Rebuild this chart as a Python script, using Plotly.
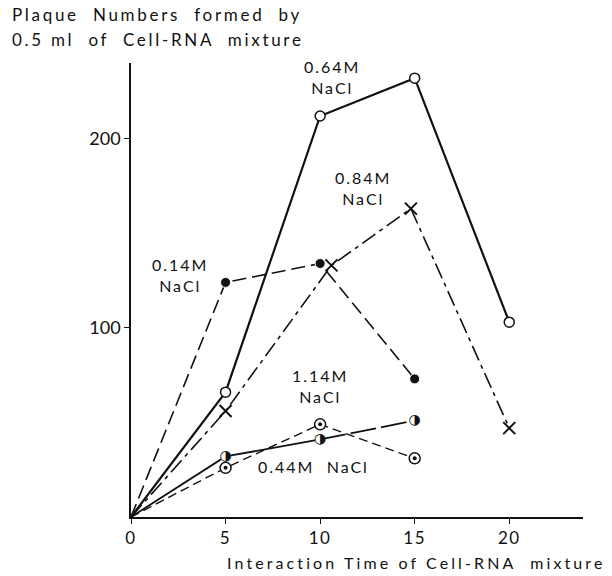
import plotly.graph_objects as go

# Interaction time (min) and plaque counts per 0.5 ml for each NaCl concentration
t_064 = [0, 5, 10, 15, 20]
p_064 = [0, 66, 212, 232, 103]

t_084 = [0, 5, 10.6, 14.8, 20]
p_084 = [0, 56, 133, 163, 47]

t_014 = [0, 5, 10, 15]
p_014 = [0, 124, 134, 73]

t_114 = [0, 5, 10, 15]
p_114 = [0, 32, 41, 51]

t_044 = [0, 5, 10, 15]
p_044 = [0, 26, 49, 31]

x_ticks = [0, 5, 10, 15, 20]
y_ticks = [100, 200]

FONT = "Lato"
INK = "#111111"


def spaced(s, px=1.6):
    return f'<span style="letter-spacing:{px}px">{s}</span>'


def hide_first(n, size):
    return [0] + [size] * (n - 1)


fig = go.Figure()

# 0.14M: long dashes, filled circles
fig.add_trace(go.Scatter(
    x=t_014, y=p_014, mode="lines+markers",
    line=dict(color=INK, width=1.6, dash="14px,6px"),
    marker=dict(symbol="circle", size=hide_first(len(t_014), 10), color=INK, opacity=1),
))

# 0.84M: dash-dot, crosses
fig.add_trace(go.Scatter(
    x=t_084, y=p_084, mode="lines+markers",
    line=dict(color=INK, width=1.6, dash="16px,5px,4px,5px"),
    marker=dict(symbol="x-thin", size=hide_first(len(t_084), 12), opacity=1,
                color=INK, line=dict(color=INK, width=2)),
))

# 0.44M: short dashes, circle with centre dot
fig.add_trace(go.Scatter(
    x=t_044, y=p_044, mode="lines",
    line=dict(color=INK, width=1.4, dash="9px,5px"),
))
fig.add_trace(go.Scatter(
    x=t_044[1:], y=p_044[1:], mode="markers",
    marker=dict(symbol="circle", size=11, color="white", opacity=1,
                line=dict(color=INK, width=1.5)),
))
fig.add_trace(go.Scatter(
    x=t_044[1:], y=p_044[1:], mode="markers",
    marker=dict(symbol="circle", size=4, color=INK, opacity=1),
))

# 1.14M: solid up to 10 min, long dashes after; half-filled circles
fig.add_trace(go.Scatter(
    x=t_114[:3], y=p_114[:3], mode="lines",
    line=dict(color=INK, width=1.8),
))
fig.add_trace(go.Scatter(
    x=t_114[2:], y=p_114[2:], mode="lines",
    line=dict(color=INK, width=1.8, dash="26px,5px"),
))
fig.add_trace(go.Scatter(
    x=t_114[1:], y=p_114[1:], mode="markers+text",
    marker=dict(symbol="circle", size=10, color="white", opacity=1),
    text=["\u25D1"] * (len(t_114) - 1), textposition="middle center",
    textfont=dict(family="DejaVu Sans", size=14, color=INK),
))

# 0.64M: heavy solid line, open circles
fig.add_trace(go.Scatter(
    x=t_064, y=p_064, mode="lines+markers",
    line=dict(color=INK, width=2.2),
    marker=dict(symbol="circle", size=hide_first(len(t_064), 10), color="white",
                opacity=1, line=dict(color=INK, width=1.5)),
))

labels = [
    ("0.64M<br>NaCl", 10.63, 232.8),
    ("0.84M<br>NaCl", 12.28, 174.0),
    ("0.14M<br>NaCl", 2.6, 128.0),
    ("1.14M<br>NaCl", 10.0, 69.3),
    ("0.44M  NaCl", 9.63, 26.5),
]
annotations = [
    dict(x=x, y=y, xref="x", yref="y", text=spaced(s, 2.0), showarrow=False,
         font=dict(family=FONT, size=16, color=INK), align="center")
    for s, x, y in labels
]

annotations += [
    dict(x=-0.268, y=1.106, xref="paper", yref="paper", xanchor="left", yanchor="middle",
         text=spaced("Plaque  Numbers  formed  by", 2.7), showarrow=False,
         font=dict(family=FONT, size=17, color=INK)),
    dict(x=-0.268, y=1.051, xref="paper", yref="paper", xanchor="left", yanchor="middle",
         text=spaced("0.5 ml  of  Cell-RNA  mixture", 2.7), showarrow=False,
         font=dict(family=FONT, size=17, color=INK)),
    dict(x=1.055, y=-0.101, xref="paper", yref="paper", xanchor="right", yanchor="middle",
         text=spaced("Interaction Time of Cell-RNA  mixture", 3.1), showarrow=False,
         font=dict(family=FONT, size=16, color=INK)),
]

fig.update_layout(
    width=612, height=576,
    margin=dict(l=131, r=29, t=63, b=59),
    paper_bgcolor="white", plot_bgcolor="white",
    showlegend=False,
    font=dict(family=FONT, size=16, color=INK),
    annotations=annotations,
    xaxis=dict(
        range=[0, 23.9], tickvals=x_ticks, ticktext=[spaced(str(v), 1.5) for v in x_ticks],
        showline=True, linecolor=INK, linewidth=1.5,
        ticks="outside", ticklen=5, tickwidth=1.2, tickcolor=INK,
        showgrid=False, zeroline=False,
        tickfont=dict(family=FONT, size=17, color=INK),
    ),
    yaxis=dict(
        range=[0, 240], tickvals=y_ticks, ticktext=[str(v) for v in y_ticks],
        showline=True, linecolor=INK, linewidth=1.5,
        ticks="outside", ticklen=5, tickwidth=1.2, tickcolor=INK,
        showgrid=False, zeroline=False,
        tickfont=dict(family=FONT, size=18, color=INK),
    ),
)

fig.write_html("out.html")
